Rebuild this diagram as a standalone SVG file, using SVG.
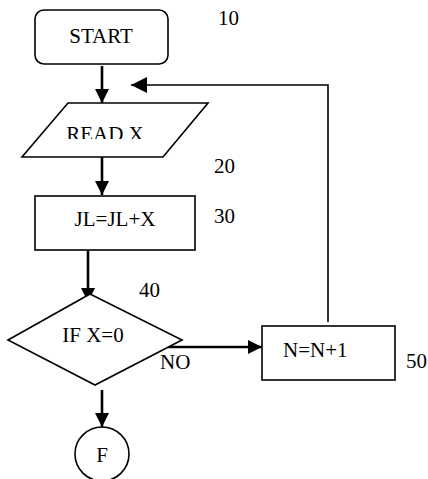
<svg xmlns="http://www.w3.org/2000/svg" width="428" height="479" viewBox="0 0 428 479">
<style>
.s{fill:#fff;stroke:#000;stroke-width:1.6}
.t{font-family:'Liberation Serif','Times New Roman','DejaVu Serif',serif;font-size:21px;fill:#000}
.c{stroke:#000;stroke-width:2.6;fill:none}
.l{stroke:#000;stroke-width:1.6;fill:none}
</style>
<defs>
<marker id="ah" viewBox="0 0 10 10" refX="10" refY="5" markerWidth="5.5" markerHeight="5.5" markerUnits="strokeWidth" orient="auto"><path d="M0,0 L10,5 L0,10 z" fill="#000"/></marker>
<marker id="ah2" viewBox="0 0 10 10" refX="10" refY="5" markerWidth="10" markerHeight="10" markerUnits="strokeWidth" orient="auto"><path d="M0,0 L10,5 L0,10 z" fill="#000"/></marker>
<clipPath id="rc"><rect x="0" y="100" width="428" height="39"/></clipPath>
</defs>
<g id="connectors">
<line class="c" x1="102" y1="66" x2="102" y2="103" marker-end="url(#ah)"/>
<line class="c" x1="102" y1="157" x2="102" y2="195" marker-end="url(#ah)"/>
<line class="c" x1="88" y1="250" x2="88" y2="302" marker-end="url(#ah)"/>
<line class="c" x1="102" y1="390" x2="102" y2="427" marker-end="url(#ah)"/>
<line class="c" x1="168" y1="347" x2="262" y2="347" marker-end="url(#ah)"/>
<polyline class="l" points="328,322 328,85 131,85" marker-end="url(#ah2)"/>
<text class="t" x="160" y="369">NO</text>
</g>
<g id="start">
<rect class="s" x="35" y="10" width="133" height="54" rx="9"/>
<text class="t" x="101" y="43" text-anchor="middle">START</text>
<text class="t" x="218" y="25">10</text>
</g>
<g id="read">
<polygon class="s" points="68,103 208,103 163,157 22,157"/>
<text class="t" x="105" y="141" text-anchor="middle" clip-path="url(#rc)">READ X</text>
<text class="t" x="214" y="173">20</text>
</g>
<g id="jl">
<rect class="s" x="35" y="196" width="160" height="54"/>
<text class="t" x="115" y="226" text-anchor="middle">JL=JL+X</text>
<text class="t" x="214" y="223">30</text>
</g>
<g id="if">
<polygon class="s" points="90,294 182,340 95,385 8,340"/>
<text class="t" x="93" y="342" text-anchor="middle">IF X=0</text>
<text class="t" x="139" y="297">40</text>
</g>
<g id="n">
<rect class="s" x="262" y="326" width="133" height="54"/>
<text class="t" x="283" y="357">N=N+1</text>
<text class="t" x="406" y="368">50</text>
</g>
<g id="f">
<circle class="s" cx="102" cy="454" r="27"/>
<text class="t" x="102" y="462" text-anchor="middle">F</text>
</g>
</svg>
